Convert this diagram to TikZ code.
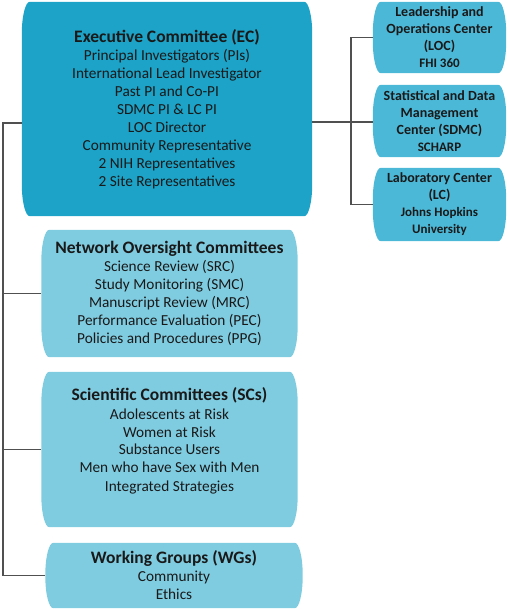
\documentclass[tikz,border=0pt]{standalone}
\usepackage{fontspec}
\setmainfont{Carlito}
\usetikzlibrary{backgrounds}

\definecolor{ecblue}{HTML}{1CA3C7}
\definecolor{sideblue}{HTML}{4CB8D7}
\definecolor{subblue}{HTML}{7FCCE1}
\definecolor{wire}{HTML}{505050}

\newcommand{\ttl}[1]{{\bfseries\fontsize{17.5}{19}\selectfont #1}}
\newcommand{\inst}[1]{{\fontsize{13}{16}\selectfont #1}}
\newcommand{\ovalbox}[2]{%
  \fill[#2] ([xshift=8pt]#1.north west) -- ([xshift=-8pt]#1.north east)
    arc[start angle=90, end angle=0, x radius=8pt, y radius=32pt]
    -- ([yshift=32pt]#1.south east)
    arc[start angle=0, end angle=-90, x radius=8pt, y radius=32pt]
    -- ([xshift=8pt]#1.south west)
    arc[start angle=270, end angle=180, x radius=8pt, y radius=32pt]
    -- ([yshift=-32pt]#1.north west)
    arc[start angle=180, end angle=90, x radius=8pt, y radius=32pt] -- cycle;}

\tikzset{
  mainbox/.style={inner sep=0pt, align=center, text=black!90,
    font=\fontsize{15.3}{18}\selectfont},
  sidebox/.style={inner sep=0pt, align=center, text=black!90,
    minimum width=133pt, font=\bfseries\fontsize{14}{17}\selectfont},
  link/.style={draw=wire, line width=1.5pt}
}

\begin{document}
\begin{tikzpicture}[x=1pt, y=1pt]
    \useasboundingbox (0,0) rectangle (508,-610);

    \node[mainbox, minimum width=290pt, minimum height=214pt] (ec) at (167,-109)
        {\ttl{Executive Committee (EC)}\\ Principal Investigators (PIs)\\
         International Lead Investigator\\ Past PI and Co-PI\\ SDMC PI \& LC PI\\
         LOC Director\\ Community Representative\\ 2 NIH Representatives\\
         2 Site Representatives};
    \node[sidebox, minimum height=71pt] (loc) at (439.5,-37.5)
        {Leadership and\\ Operations Center\\ (LOC)\\ \inst{FHI 360}};
    \node[sidebox, minimum height=72pt] (sdmc) at (439.5,-121)
        {Statistical and Data\\ Management\\ Center (SDMC)\\ \inst{SCHARP}};
    \node[sidebox, minimum height=73pt] (lc) at (439.5,-204.5)
        {Laboratory Center\\ (LC)\\ \inst{Johns Hopkins}\\ \inst{University}};
    \node[mainbox, minimum width=256pt, minimum height=127pt] (noc) at (169.5,-293.5)
        {\ttl{Network Oversight Committees}\\ Science Review (SRC)\\
         Study Monitoring (SMC)\\ Manuscript Review (MRC)\\
         Performance Evaluation (PEC)\\ Policies and Procedures (PPG)};
    \node[mainbox, minimum width=256pt, minimum height=155pt, text depth=20pt] (sc) at (169.5,-449.5)
        {\ttl{Scientific Committees (SCs)}\\ Adolescents at Risk\\ Women at Risk\\
         Substance Users\\ Men who have Sex with Men\\ Integrated Strategies};
    \node[mainbox, minimum width=257pt, minimum height=65pt] (wg) at (174,-575.5)
        {\ttl{Working Groups (WGs)}\\ Community\\ Ethics};

    \begin{scope}[on background layer]
        \ovalbox{ec}{ecblue}
        \foreach \n in {loc, sdmc, lc} {\ovalbox{\n}{sideblue}}
        \foreach \n in {noc, sc, wg} {\ovalbox{\n}{subblue}}
    \end{scope}

    % left spine
    \coordinate (lspine) at (3,-123);
    \draw[link] (ec.west |- lspine) -- (lspine) |- (wg.west);
    \draw[link] (lspine |- noc.west) -- (noc.west);
    \draw[link] (lspine |- sc.west) -- (sc.west);

    % right spine
    \coordinate (rspine) at (351,-122);
    \draw[link] (ec.east |- rspine) -- (rspine);
    \draw[link] (loc.west) -| (rspine) |- (lc.west);
    \draw[link] (rspine) -- (rspine -| sdmc.west);
\end{tikzpicture}
\end{document}
